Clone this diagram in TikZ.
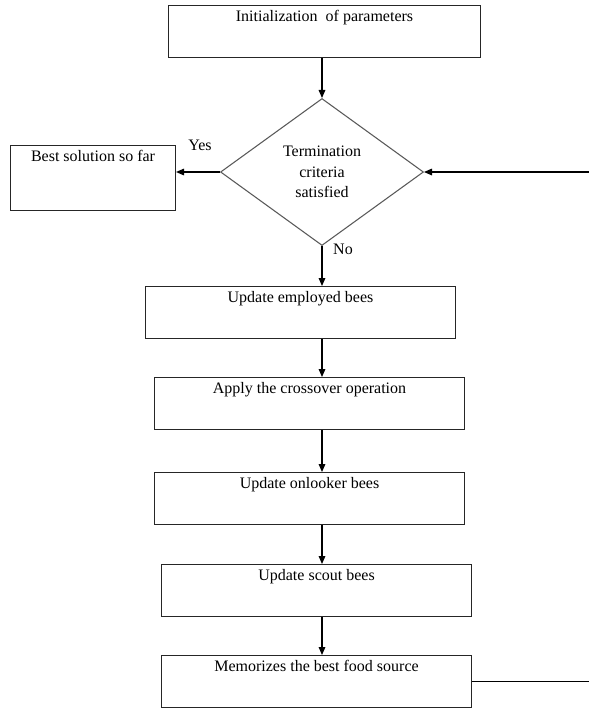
\documentclass[tikz,border=0pt]{standalone}
\usepackage{fontspec}
\setmainfont{Liberation Serif}
\usetikzlibrary{arrows.meta,shapes.geometric}
\tikzset{%
   stage/.style={rectangle, draw=black!85, line width=0.8pt, anchor=north west, inner sep=0pt,
      minimum width=310*0.75pt, text height=12pt, text depth=27pt, font=\fontsize{12}{14}\selectfont},
   test/.style={diamond, draw=black!65, line width=0.8pt, inner sep=0pt, align=center,
      minimum width=203*0.75pt, minimum height=147*0.75pt, font=\fontsize{12}{15.5}\selectfont},
   flow/.style={-{Triangle[length=6pt,width=5pt]}, line width=0.8pt},
   tag/.style={inner sep=0pt, font=\fontsize{12}{14}\selectfont},
}

\begin{document}
\begin{tikzpicture}[x=0.75pt, y=-0.75pt]
   \useasboundingbox (0,0) rectangle (589,708);
   \node[stage, minimum width=312*0.75pt] (init) at (168,5) {Initialization\ \ of parameters};
   \node[test] (crit) at (322,172) {Termination\\criteria\\satisfied};
   \node[stage, minimum width=165*0.75pt, text depth=36.75pt] (best) at (10,145) {Best solution so far};
   \node[stage] (emp) at (145,286) {Update employed bees};
   \node[stage] (cross) at (154,377) {Apply the crossover operation};
   \node[stage] (onl) at (154,472) {Update onlooker bees};
   \node[stage] (scout) at (161,564) {Update scout bees};
   \node[stage] (memo) at (161,655) {Memorizes the best food source};
   \node[tag] (yes) at (200,145) {Yes};
   \node[tag] (no) at (343,249) {No};
   \coordinate (back) at (589,172);
   \coordinate (loop) at (589,681);
   % main column
   \draw[flow] (init.south -| crit) -- (crit.north);
   \draw[flow] (crit.south) -- (emp.north -| crit);
   \draw[flow] (emp.south -| crit) -- (cross.north -| crit);
   \draw[flow] (cross.south -| crit) -- (onl.north -| crit);
   \draw[flow] (onl.south -| crit) -- (scout.north -| crit);
   \draw[flow] (scout.south -| crit) -- (memo.north -| crit);
   % exit and loop back
   \draw[flow] (crit.west) -- (crit.west -| best.east);
   \draw[flow] (back) -- (crit.east);
   \draw[line width=0.8pt] (memo.east) -- (memo.east -| loop);
\end{tikzpicture}
\end{document}
